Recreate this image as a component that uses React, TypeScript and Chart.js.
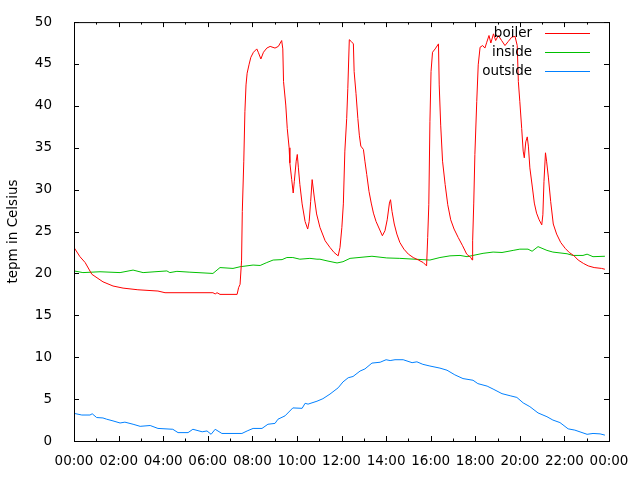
import React, { useEffect, useRef } from "react";
import { Chart, registerables } from "chart.js";

Chart.register(...registerables);

const xTickLabels = ["00:00", "02:00", "04:00", "06:00", "08:00", "10:00", "12:00", "14:00", "16:00", "18:00", "20:00", "22:00", "00:00"];
const yTicks = [0, 5, 10, 15, 20, 25, 30, 35, 40, 45, 50];
const seriesNames = ["boiler", "inside", "outside"];
const seriesColors = ["#ff0000", "#00c000", "#0080ff"];
const yTitle = "tepm in Celsius";

const boilerTimes = [
  "00:00", "00:16", "00:30", "00:48", "01:18", "01:45", "02:12", "02:52", "03:46", "04:05", "06:14", "06:20", "06:25", "06:33",
  "07:19", "07:23", "07:27", "07:31", "07:33", "07:37", "07:40", "07:43", "07:46", "07:51", "07:56", "08:03", "08:12", "08:16",
  "08:23", "08:30", "08:39", "08:48", "09:01", "09:10", "09:19", "09:22", "09:24", "09:30", "09:34", "09:39", "09:41", "09:46",
  "09:50", "09:53", "09:58", "10:01", "10:04", "10:08", "10:14", "10:22", "10:29", "10:33", "10:37", "10:41", "10:47", "10:53",
  "11:02", "11:16", "11:29", "11:40", "11:51", "11:56", "12:01", "12:05", "12:09", "12:14", "12:17", "12:21", "12:26", "12:32",
  "12:34", "12:39", "12:44", "12:48", "12:52", "12:59", "13:03", "13:08", "13:14", "13:20", "13:26", "13:33", "13:42", "13:50",
  "13:57", "14:03", "14:09", "14:12", "14:16", "14:22", "14:29", "14:37", "14:48", "15:00", "15:13", "15:27", "15:40", "15:49",
  "15:52", "15:55", "15:58", "16:01", "16:05", "16:12", "16:21", "16:23", "16:27", "16:32", "16:39", "16:46", "16:54", "17:03",
  "17:14", "17:26", "17:37", "17:48", "17:52", "17:53", "17:56", "17:59", "18:04", "18:08", "18:13", "18:20", "18:26", "18:31",
  "18:37", "18:42", "18:49", "18:55", "19:02", "19:11", "19:20", "19:29", "19:38", "19:47", "19:53", "19:56", "20:00", "20:05",
  "20:09", "20:12", "20:16", "20:20", "20:23", "20:27", "20:34", "20:39", "20:45", "20:52", "20:59", "21:02", "21:05", "21:09",
  "21:12", "21:17", "21:23", "21:30", "21:39", "21:50", "22:02", "22:13", "22:26", "22:37", "22:51", "23:04", "23:20", "23:40",
  "23:49",
];
const boilerValues = [
  23.1, 22.0, 21.3, 19.9, 19.0, 18.5, 18.25, 18.05, 17.9, 17.7, 17.7, 17.55, 17.7, 17.5,
  17.5, 18.3, 18.7, 21.5, 27.4, 33.4, 39.3, 42.5, 43.9, 44.9, 45.8, 46.4, 46.8, 46.4,
  45.6, 46.4, 46.9, 47.1, 46.9, 47.1, 47.8, 46.8, 42.9, 40.1, 37.3, 35.0, 33.2, 31.2,
  29.6, 31.0, 33.4, 34.2, 32.6, 30.6, 28.3, 26.2, 25.3, 26.2, 28.6, 31.2, 29.0, 27.1,
  25.5, 23.9, 23.1, 22.5, 22.1, 23.1, 25.5, 28.3, 34.6, 38.5, 42.1, 47.9, 47.7, 47.4,
  44.1, 41.5, 38.5, 36.5, 35.2, 34.8, 33.4, 31.8, 29.8, 28.4, 27.2, 26.2, 25.3, 24.5,
  25.1, 26.4, 28.4, 28.8, 27.4, 25.9, 24.7, 23.7, 22.9, 22.3, 21.9, 21.6, 21.3, 20.9,
  24.3, 28.2, 38.1, 44.1, 46.4, 46.8, 47.4, 42.5, 37.7, 33.4, 30.6, 28.2, 26.4, 25.3,
  24.3, 23.3, 22.3, 21.9, 21.6, 23.9, 28.4, 34.2, 40.5, 44.9, 47.0, 47.2, 46.9, 47.6,
  48.4, 47.5, 48.6, 47.8, 48.4, 47.8, 47.2, 47.7, 48.2, 48.3, 47.2, 42.9, 40.5, 37.3,
  34.6, 33.8, 35.7, 36.3, 35.2, 32.6, 30.2, 28.4, 27.2, 26.4, 25.8, 27.0, 31.0, 34.4,
  33.4, 31.4, 28.6, 25.9, 24.7, 23.7, 23.0, 22.5, 22.1, 21.6, 21.2, 20.9, 20.7, 20.6,
  20.5,
];

const insideTimes = [
  "00:00", "00:24", "01:10", "02:04", "02:39", "03:06", "03:38", "04:10", "04:18", "04:37", "05:12", "06:14", "06:33", "07:08",
  "07:27", "08:02", "08:21", "08:39", "08:56", "09:20", "09:33", "09:49", "10:08", "10:35", "10:54", "11:02", "11:21", "11:48",
  "12:04", "12:23", "13:22", "14:02", "14:37", "15:58", "16:25", "16:52", "17:19", "17:38", "18:21", "18:48", "19:12", "19:42",
  "20:00", "20:22", "20:33", "20:49", "21:13", "21:29", "22:07", "22:23", "22:50", "23:01", "23:17", "23:49",
];
const insideValues = [
  20.3, 20.1, 20.2, 20.1, 20.4, 20.1, 20.2, 20.3, 20.1, 20.25, 20.15, 20.0, 20.7, 20.6,
  20.8, 21.0, 20.95, 21.3, 21.6, 21.65, 21.9, 21.9, 21.7, 21.8, 21.7, 21.7, 21.5, 21.25,
  21.4, 21.8, 22.05, 21.85, 21.8, 21.6, 21.9, 22.1, 22.15, 22.0, 22.4, 22.55, 22.5, 22.75,
  22.9, 22.9, 22.65, 23.2, 22.75, 22.55, 22.35, 22.15, 22.15, 22.3, 22.0, 22.05,
];

const outsideTimes = [
  "00:00", "00:21", "00:43", "00:49", "01:01", "01:18", "01:28", "01:45", "02:04", "02:17", "02:39", "02:58", "03:25", "03:46",
  "04:26", "04:40", "05:07", "05:20", "05:45", "05:58", "06:09", "06:20", "06:38", "07:32", "07:46", "08:02", "08:26", "08:42",
  "09:01", "09:09", "09:28", "09:49", "10:14", "10:22", "10:30", "10:54", "11:10", "11:29", "11:51", "12:04", "12:18", "12:31",
  "12:50", "13:03", "13:22", "13:44", "14:00", "14:11", "14:24", "14:46", "15:10", "15:23", "15:39", "15:58", "16:25", "16:44",
  "17:05", "17:27", "17:54", "18:07", "18:32", "18:48", "19:12", "19:34", "19:52", "20:09", "20:27", "20:49", "21:13", "21:29",
  "21:48", "22:10", "22:28", "23:01", "23:17", "23:36", "23:49",
];
const outsideValues = [
  3.3, 3.1, 3.1, 3.25, 2.8, 2.75, 2.6, 2.4, 2.15, 2.25, 2.0, 1.75, 1.85, 1.5,
  1.4, 1.0, 1.0, 1.4, 1.1, 1.2, 0.8, 1.4, 0.9, 0.9, 1.2, 1.5, 1.5, 2.0,
  2.1, 2.6, 3.0, 3.95, 3.9, 4.5, 4.4, 4.75, 5.05, 5.6, 6.35, 7.05, 7.55, 7.7,
  8.35, 8.6, 9.3, 9.4, 9.7, 9.6, 9.7, 9.7, 9.35, 9.45, 9.15, 8.95, 8.7, 8.45,
  7.9, 7.45, 7.25, 6.85, 6.55, 6.2, 5.65, 5.4, 5.2, 4.55, 4.1, 3.35, 2.9, 2.5,
  2.2, 1.45, 1.3, 0.8, 0.9, 0.85, 0.7,
];

const FONT = "DejaVu Sans";
const FONT_SIZE = 13.5;

const toHours = (t: string) => {
  const [h, m] = t.split(":").map(Number);
  return h + m / 60;
};
const toPoints = (times: string[], values: number[]) => times.map((t, i) => ({ x: toHours(t), y: values[i] }));

const framePlugin = {
  id: "gnuframe",
  afterDatasetsDraw(chart: any) {
    const { ctx, chartArea, scales } = chart;
    const { left, right, top, bottom } = chartArea;
    const xs = scales.x;
    const ys = scales.y;
    ctx.save();
    ctx.strokeStyle = "#000";
    ctx.lineWidth = 1;
    ctx.strokeRect(left + 0.5, top + 0.5, right - left, bottom - top);
    ctx.beginPath();
    for (let h = 0; h <= 24; h++) {
      const px = Math.round(xs.getPixelForValue(h)) + 0.5;
      const len = h % 2 === 0 ? 5 : 2.5;
      ctx.moveTo(px, bottom);
      ctx.lineTo(px, bottom - len);
      ctx.moveTo(px, top);
      ctx.lineTo(px, top + len);
    }
    yTicks.forEach((v) => {
      const py = Math.round(ys.getPixelForValue(v)) + 0.5;
      ctx.moveTo(left, py);
      ctx.lineTo(left + 5, py);
      ctx.moveTo(right, py);
      ctx.lineTo(right - 5, py);
    });
    ctx.stroke();

    // legend
    ctx.font = `${FONT_SIZE}px "${FONT}"`;
    ctx.textAlign = "right";
    ctx.textBaseline = "middle";
    seriesNames.forEach((name, i) => {
      const y = 33 + i * 19;
      ctx.fillStyle = "#000";
      ctx.fillText(name, 532, y);
      ctx.strokeStyle = seriesColors[i];
      ctx.beginPath();
      ctx.moveTo(545, y + 0.5);
      ctx.lineTo(590, y + 0.5);
      ctx.stroke();
    });
    ctx.restore();
  },
};

export default function App() {
  const canvasRef = useRef<HTMLCanvasElement | null>(null);

  useEffect(() => {
    if (!canvasRef.current) return;
    const data = [
      toPoints(boilerTimes, boilerValues),
      toPoints(insideTimes, insideValues),
      toPoints(outsideTimes, outsideValues),
    ];
    const chart = new Chart(canvasRef.current, {
      type: "line",
      data: {
        datasets: seriesNames.map((name, i) => ({
          label: name,
          data: data[i],
          borderColor: seriesColors[i],
          backgroundColor: seriesColors[i],
          borderWidth: 1,
          pointRadius: 0,
          tension: 0,
          fill: false,
        })),
      },
      options: {
        responsive: false,
        animation: false,
        layout: { padding: { left: 0, right: 31, top: 20, bottom: 0 } },
        plugins: {
          legend: { display: false },
          tooltip: { enabled: false },
        },
        scales: {
          x: {
            type: "linear",
            min: 0,
            max: 24,
            grid: { display: false },
            border: { display: false },
            afterFit: (scale: any) => {
              scale.height = 39;
            },
            afterBuildTicks: (scale: any) => {
              scale.ticks = xTickLabels.map((_, i) => ({ value: i * 2 }));
            },
            ticks: {
              autoSkip: false,
              maxRotation: 0,
              padding: 4,
              color: "#000",
              font: { family: FONT, size: FONT_SIZE },
              callback: (_v: any, i: number) => xTickLabels[i],
            },
          },
          y: {
            type: "linear",
            min: 0,
            max: 50,
            grid: { display: false },
            border: { display: false },
            afterFit: (scale: any) => {
              scale.width = 74;
            },
            afterBuildTicks: (scale: any) => {
              scale.ticks = yTicks.map((v) => ({ value: v }));
            },
            title: {
              display: true,
              text: yTitle,
              color: "#000",
              font: { family: FONT, size: FONT_SIZE },
              padding: { top: 5, bottom: 0 },
            },
            ticks: {
              padding: 14,
              color: "#000",
              font: { family: FONT, size: FONT_SIZE },
              callback: (v: any) => String(v),
            },
          },
        },
      },
      plugins: [framePlugin],
    });
    return () => chart.destroy();
  }, []);

  return (
    <div style={{ position: "absolute", left: 0, top: 0, width: 640, height: 480, background: "#fff" }}>
      <canvas ref={canvasRef} width={640} height={480} style={{ display: "block", width: 640, height: 480 }} />
    </div>
  );
}
